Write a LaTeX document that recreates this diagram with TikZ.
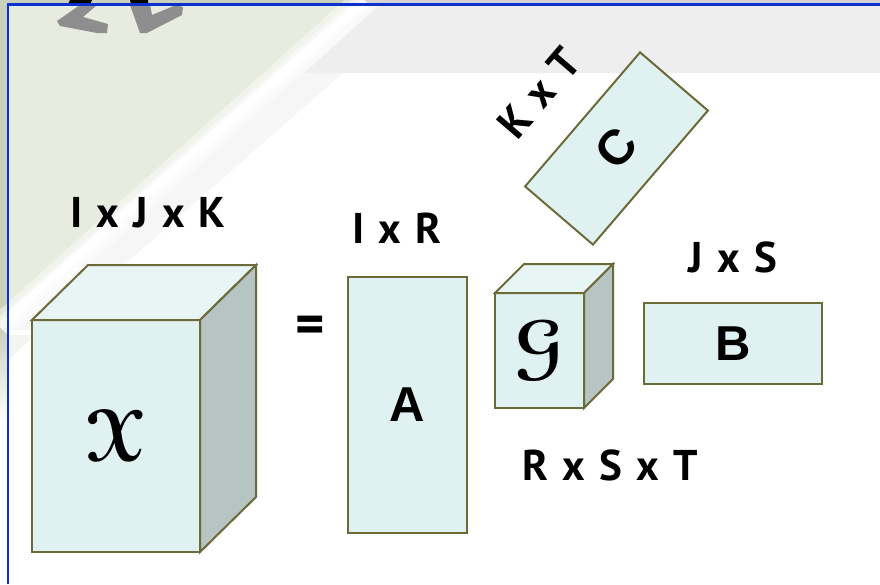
\documentclass[tikz,border=0pt]{standalone}
\usepackage{fontspec}
\usepackage{graphicx}
\usepackage{eucal}
\setmainfont{PT Sans}
\newfontfamily\lblfam{PT Sans}
\newfontfamily\abcfam{Liberation Sans}
\definecolor{edgec}{HTML}{6B6A38}
\definecolor{frontc}{HTML}{E0F1F1}
\definecolor{topc}{HTML}{E7F5F5}
\definecolor{sidec}{HTML}{B6C4C4}
\definecolor{bgGreen}{HTML}{E7EBE0}
\definecolor{bgGray}{HTML}{EEEEEE}
\definecolor{bgWash}{HTML}{F6F6F6}
\definecolor{outGreen}{HTML}{C9D1BC}
\definecolor{outGray}{HTML}{D4D4D4}
\definecolor{frameBlue}{HTML}{0A30D0}
\definecolor{markGray}{HTML}{8E8E8E}
\tikzset{
  edge/.style={draw=edgec, line width=2pt, line join=miter},
  face/.style={edge, fill=frontc, rectangle, outer sep=0pt, inner sep=0pt},
  lbl/.style={font={\lblfam\bfseries\fontsize{43}{43}\selectfont\spaceskip=0.33em\relax}, inner sep=0pt, text=black},
  letter/.style={font={\abcfam\bfseries\fontsize{49}{49}\selectfont}, text=black},
  swoosh/.style={white, line cap=butt, opacity=0.45}
}
\begin{document}
\begin{tikzpicture}[x=1pt,y=-1pt]
\useasboundingbox (0,0) rectangle (880,584);
% background
\fill[white] (0,0) rectangle (880,584);
\fill[outGreen] (0,0) rectangle (360,5);
\fill[outGreen] (0,0) rectangle (8,330);
\shade[top color=outGreen, bottom color=white] (0,329) rectangle (8,420);
\fill[outGray] (360,0) rectangle (880,5);
\fill[bgWash] (366,5) -- (420,5) -- (50,330) -- (8,330) -- (8,322) -- cycle;
\fill[bgGray] (380,5) -- (880,5) -- (880,73) -- (305,73) -- cycle;
\fill[bgGreen] (8,5) -- (352,5) -- (8,312) -- cycle;
\fill[bgGreen!50] (8,335) -- (8,360) -- (35,335) -- cycle;
\draw[swoosh, line width=26pt] (364,0) -- (0,327);
\draw[swoosh, line width=16pt] (364,0) -- (0,327);
\draw[swoosh, line width=8pt] (364,0) -- (0,327);
% watermark fragments
\fill[markGray] (80,5) -- (57,21) -- (60,26) -- (97,33) -- (107,33) -- (108,24) -- (83,17) -- (97,5) -- cycle;
\fill[markGray] (130,5) -- (140,33) -- (147,33) -- (182,15) -- (183,7) -- (176,5) -- (152,15) -- (150,5) -- cycle;
\fill[black] (70,0) -- (92,0) -- (90,4) -- (68,4) -- cycle;
\fill[black] (130,0) -- (148,0) -- (148,4) -- (131,4) -- cycle;
% frame
\draw[frameBlue, line width=2.5pt] (8,584) -- (8,4.5) -- (880,4.5);

% tensor X
\node[face, minimum width=168pt, minimum height=232pt] (X) at (116,436) {\scalebox{7.3}{\boldmath$\mathcal{X}$}};
\path[edge, fill=topc] (X.north west) -- ++(56,-55) -- ++(168,0) -- (X.north east) -- cycle;
\path[edge, fill=sidec] (X.north east) -- ++(56,-55) -- ++(0,232) -- (X.south east) -- cycle;
\node[lbl, anchor=base] (lX) at (148,227) {I x J x K};

\node[lbl] (eq) at (310,330) {\scalebox{1.3}{=}};

% matrix A
\node[face, minimum width=119pt, minimum height=256pt] (A) at (407.5,405) {};
\node[letter] (tA) at (A.center) {A};
\node[lbl, anchor=base] (lA) at (397,243) {I x R};

% core G
\node[face, minimum width=89pt, minimum height=115pt] (G) at (539.5,350.5) {\scalebox{7.3}{\boldmath$\mathcal{G}$}};
\path[edge, fill=topc] (G.north west) -- ++(29,-29) -- ++(89,0) -- (G.north east) -- cycle;
\path[edge, fill=sidec] (G.north east) -- ++(29,-29) -- ++(0,115) -- (G.south east) -- cycle;
\node[lbl, anchor=base] (lG) at (610,480) {R x S x T};

% matrix B
\node[face, minimum width=178pt, minimum height=81pt] (B) at (733,343.5) {};
\node[letter] (tB) at (B.center) {B};
\node[lbl, anchor=base] (lB) at (733,272) {J x S};

% matrix C
\node[face, minimum width=176.6pt, minimum height=89.4pt, rotate=49.4] (C) at (616.5,148.5) {};
\node[letter, rotate=49.4] (tC) at (C.center) {C};
\node[lbl, rotate=49.4] (lC) at (539,93) {K x T};
\end{tikzpicture}
\end{document}
